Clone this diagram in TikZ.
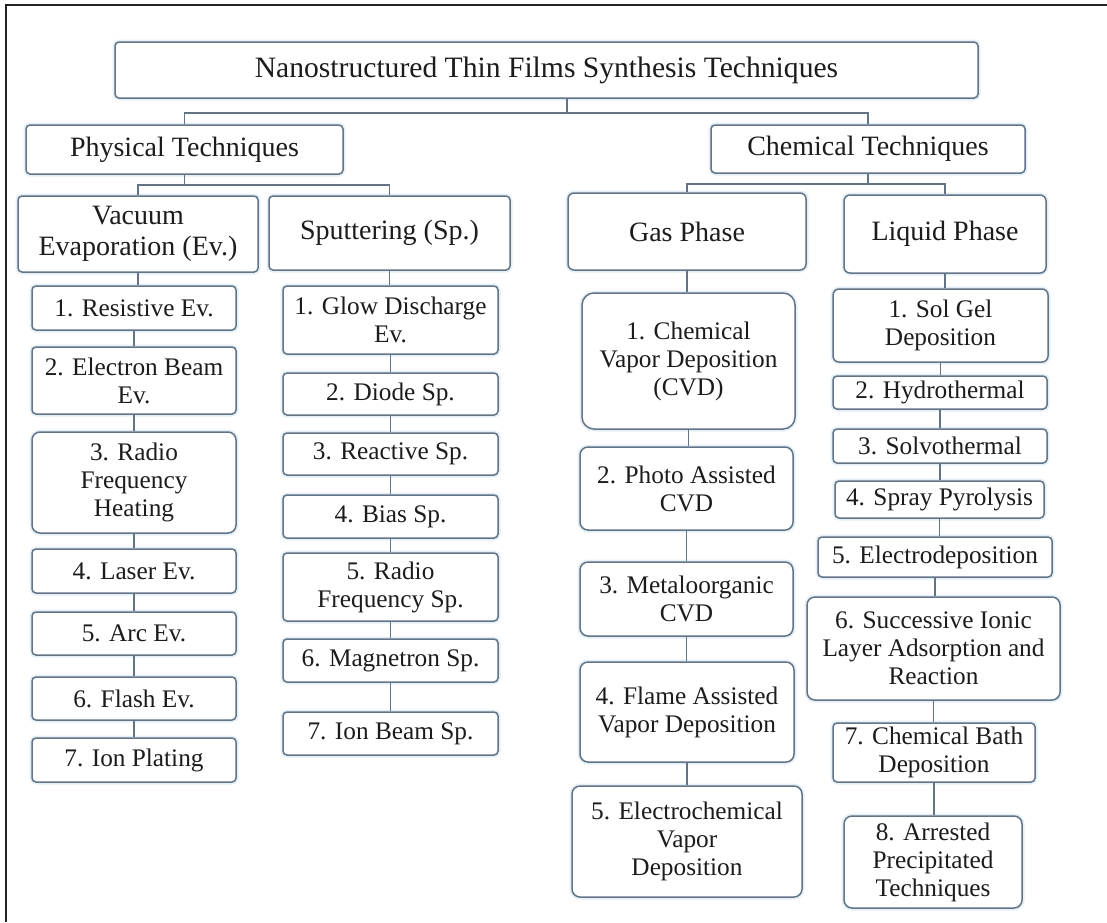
\documentclass[tikz,border=0pt]{standalone}
\usepackage{fontspec}
\setmainfont{Liberation Serif}
\usetikzlibrary{positioning}
\definecolor{tfline}{RGB}{98,116,134}
\definecolor{tfglow}{RGB}{228,239,246}
\definecolor{tftext}{RGB}{28,28,28}
\definecolor{tfframe}{RGB}{35,35,35}
\tikzset{
  techbox/.style = {
    rectangle,
    rounded corners=4pt,
    draw=tfline,
    fill=white,
    text=tftext,
    align=center,
    inner sep=0pt,
    line width=1.5pt,
    preaction={draw=tfglow, line width=5pt}
  },
  topbox/.style = {
    techbox,
    font=\fontsize{29.6}{31}\selectfont
  },
  groupbox/.style = {
    techbox,
    font=\fontsize{28}{31.5}\selectfont
  },
  itembox/.style = {
    techbox,
    font=\fontsize{25.3}{28}\selectfont
  },
  wh/.style 2 args = {minimum width=#1pt, minimum height=#2pt},
  link/.style = {
    line width=1.5pt,
    draw=tfline
  }
}

\begin{document}
\begin{tikzpicture}[x=1pt, y=-1pt]
  \useasboundingbox (0,0) rectangle (1107,922);
  % outer frame (cropped)
  \draw[tfframe, line width=2.5pt] (6,922) -- (6,5) -- (1107,5);

  % Root and main branches
  \node[topbox, wh={863}{56}] (title) at (546.5,70) {Nanostructured Thin Films Synthesis Techniques};
  \node[groupbox, wh={317}{49}] (phys) at (184.5,149.5) {Physical Techniques};
  \node[groupbox, wh={314}{48}] (chem) at (868,149) {Chemical Techniques};

  % Sub groups
  \node[groupbox, wh={240}{76}] (vac) at (138,234) {Vacuum\\Evaporation (Ev.)};
  \node[groupbox, wh={241}{74}] (sput) at (389.5,233) {Sputtering (Sp.)};
  \node[groupbox, wh={238}{77}, rounded corners=6pt] (gas) at (687,231.5) {Gas Phase};
  \node[groupbox, wh={202}{78}, rounded corners=6pt] (liq) at (945,234) {Liquid Phase};

  % Vacuum evaporation column
  \node[itembox, wh={204}{44}] (ev1) at (134,308) {1. Resistive Ev.};
  \node[itembox, wh={204}{67}] (ev2) at (134,380.5) {2. Electron Beam\\Ev.};
  \node[itembox, wh={204}{101}, rounded corners=8pt] (ev3) at (134,482.5) {3. Radio\\Frequency\\Heating};
  \node[itembox, wh={204}{44}] (ev4) at (134,571) {4. Laser Ev.};
  \node[itembox, wh={204}{43}] (ev5) at (134,633.5) {5. Arc Ev.};
  \node[itembox, wh={204}{43}] (ev6) at (134,698.5) {6. Flash Ev.};
  \node[itembox, wh={204}{44}] (ev7) at (134,760) {7. Ion Plating};

  % Sputtering column
  \node[itembox, wh={215}{68}] (sp1) at (390.5,320) {1. Glow Discharge\\Ev.};
  \node[itembox, wh={215}{42}] (sp2) at (390.5,394) {2. Diode Sp.};
  \node[itembox, wh={215}{42}] (sp3) at (390.5,454) {3. Reactive Sp.};
  \node[itembox, wh={215}{43}] (sp4) at (390.5,516.5) {4. Bias Sp.};
  \node[itembox, wh={215}{68}] (sp5) at (390.5,587) {5. Radio\\Frequency Sp.};
  \node[itembox, wh={215}{43}] (sp6) at (390.5,660.5) {6. Magnetron Sp.};
  \node[itembox, wh={215}{43}] (sp7) at (390.5,733.5) {7. Ion Beam Sp.};

  % Gas phase column
  \node[itembox, wh={213}{136}, rounded corners=12pt] (gp1) at (688.5,361) {1. Chemical\\Vapor Deposition\\(CVD)};
  \node[itembox, wh={213}{83}, rounded corners=8pt] (gp2) at (686.5,488.5) {2. Photo Assisted\\CVD};
  \node[itembox, wh={213}{74}, rounded corners=8pt] (gp3) at (686.5,599) {3. Metaloorganic\\CVD};
  \node[itembox, wh={214}{100}, rounded corners=8pt] (gp4) at (687,712) {4. Flame Assisted\\Vapor Deposition};
  \node[itembox, wh={230}{111}, rounded corners=8pt] (gp5) at (687,841.5) {5. Electrochemical\\Vapor\\Deposition};

  % Liquid phase column
  \node[itembox, wh={215}{73}, rounded corners=6pt] (lp1) at (940.5,325.5) {1. Sol Gel\\Deposition};
  \node[itembox, wh={214}{33}] (lp2) at (940,392.5) {2. Hydrothermal};
  \node[itembox, wh={214}{34}] (lp3) at (940,446) {3. Solvothermal};
  \node[itembox, wh={209}{37}] (lp4) at (939.5,499.5) {4. Spray Pyrolysis};
  \node[itembox, wh={234}{40}] (lp5) at (935,557) {5. Electrodeposition};
  \node[itembox, wh={253}{103}, rounded corners=8pt] (lp6) at (933.5,648.5) {6. Successive Ionic\\Layer Adsorption and\\Reaction};
  \node[itembox, wh={202}{59}] (lp7) at (934,752.5) {7. Chemical Bath\\Deposition};
  \node[itembox, wh={178}{92}, rounded corners=8pt] (lp8) at (933,862) {8. Arrested\\Precipitated\\Techniques};

  % Tree links
  \draw[link] ([xshift=20.5pt]title.south) -- ++(0,14) coordinate (tj);
  \draw[link] (phys.north) |- (tj) -| (chem.north);
  \draw[link] (phys.south) -- ++(0,10) coordinate (pj);
  \draw[link] (vac.north) |- (pj) -| (sput.north);
  \draw[link] (chem.south) -- ++(0,10) coordinate (cj);
  \draw[link] (gas.north) |- (cj) -| (liq.north);

  % Column links
  \foreach \a/\b in {vac/ev1, ev1/ev2, ev2/ev3, ev3/ev4, ev4/ev5, ev5/ev6, ev6/ev7,
                     sput/sp1, sp1/sp2, sp2/sp3, sp3/sp4, sp4/sp5, sp5/sp6, sp6/sp7,
                     gas/gp1, gp1/gp2, gp2/gp3, gp3/gp4, gp4/gp5,
                     liq/lp1, lp1/lp2, lp2/lp3, lp3/lp4, lp4/lp5, lp5/lp6, lp6/lp7, lp7/lp8}
    \draw[link] (\a.south) -- (\a.south |- \b.north);
\end{tikzpicture}
\end{document}
